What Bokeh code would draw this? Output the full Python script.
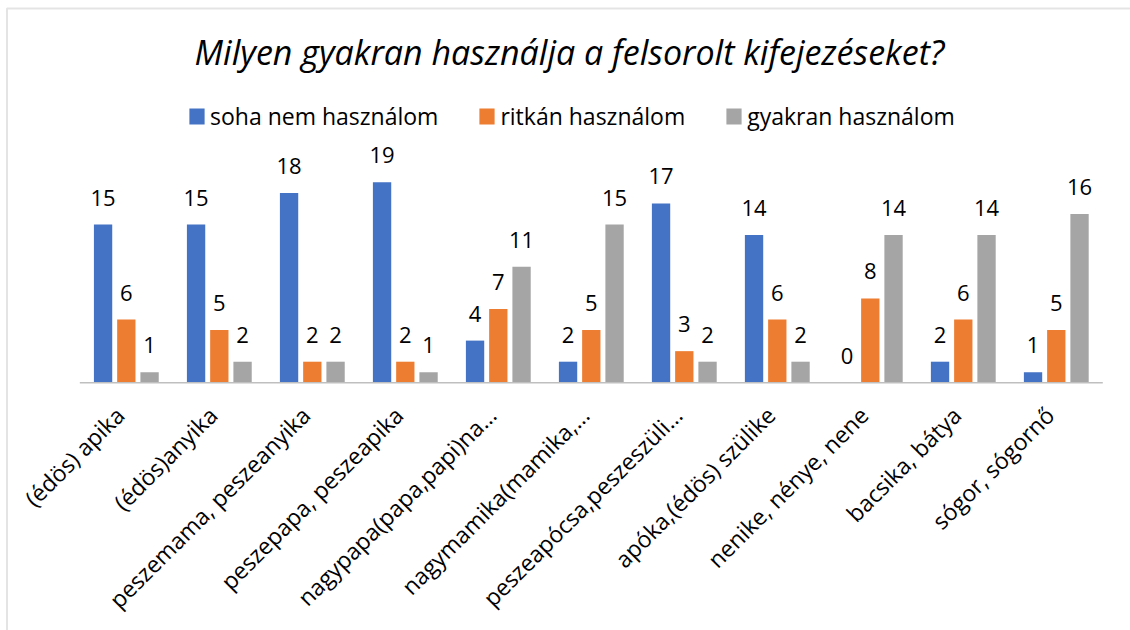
import math
from bokeh.plotting import figure
from bokeh.models import (ColumnDataSource, Range1d, FixedTicker, Legend, LegendItem,
                          Label, BoxAnnotation)
from bokeh.core.properties import value
from bokeh.embed import file_html
from bokeh.resources import INLINE

title_text = "Milyen gyakran használja a felsorolt kifejezéseket?"
categories = [
    "(édös) apika",
    "(édös)anyika",
    "peszemama, peszeanyika",
    "peszepapa, peszeapika",
    "nagypapa(papa,papi)na…",
    "nagymamika(mamika,…",
    "peszeapócsa,peszeszüli…",
    "apóka,(édös) szülike",
    "nenike, nénye, nene",
    "bacsika, bátya",
    "sógor, sógornő",
]
series_names = ["soha nem használom", "ritkán használom", "gyakran használom"]
soha = [15, 15, 18, 19, 4, 2, 17, 14, 0, 2, 1]
ritkan = [6, 5, 2, 2, 7, 5, 3, 6, 8, 6, 5]
gyakran = [1, 2, 2, 1, 11, 15, 2, 2, 14, 14, 16]
colors = ["#4472C4", "#ED7D31", "#A5A5A5"]

W, H = 1130, 630
X_START, X_END = -1.353, 10.798
Y_START, Y_END = -23.48, 36.24

def px2x(px):
    return X_START + px / W * (X_END - X_START)

def py2y(py):
    return Y_END - py / H * (Y_END - Y_START)

FONT = "Open Sans"
TXT = "#000000"

p = figure(width=W, height=H, output_backend="svg", toolbar_location=None,
           x_range=Range1d(X_START, X_END), y_range=Range1d(Y_START, Y_END),
           y_axis_location=None, min_border=0, min_border_left=0, min_border_right=0,
           min_border_top=0, min_border_bottom=0)
p.outline_line_color = None
p.xgrid.visible = False
p.ygrid.visible = False
p.background_fill_color = "white"
p.border_fill_color = "white"

idx = list(range(len(categories)))
offsets = [-0.25, 0.0, 0.25]
bar_w = 0.197
renderers = []
for vals, off, col in zip([soha, ritkan, gyakran], offsets, colors):
    src = ColumnDataSource(dict(
        x=[i + off for i in idx],
        top=vals,
        ty=[v + 2.56 for v in vals],
        label=[str(v) for v in vals],
    ))
    r = p.vbar(x="x", top="top", bottom=0, width=bar_w, source=src,
               fill_color=col, line_color=None)
    renderers.append(r)
    p.text(x="x", y="ty", text="label", source=src, text_align="center",
           text_baseline="middle", text_font=value(FONT), text_font_size="22px",
           text_color=TXT)

# category axis line
p.segment(x0=[idx[0] - 0.5], x1=[idx[-1] + 0.5], y0=[0], y1=[0],
          line_color="#bfbfbf", line_width=1.5)

# category labels, drawn by the axis at the baseline (no space reserved)
label_shift = -0.07
ticks = [i + label_shift for i in idx]
ax = p.xaxis[0]
ax.fixed_location = 0
ax.ticker = FixedTicker(ticks=ticks)
ax.major_label_overrides = {t: c for t, c in zip(ticks, categories)}
ax.major_label_orientation = math.pi / 4
ax.axis_line_color = None
ax.major_tick_line_color = None
ax.minor_tick_line_color = None
ax.major_label_text_font = FONT
ax.major_label_text_font_size = "23px"
ax.major_label_text_color = TXT
ax.major_label_standoff = 22

# title
p.add_layout(Label(x=px2x(569), y=py2y(51), text=title_text, text_align="center",
                   text_baseline="middle", text_font=FONT, text_font_style="italic",
                   text_font_size="34px", text_color=TXT))

# legend
legend = Legend(items=[LegendItem(label=n, renderers=[r]) for n, r in zip(series_names, renderers)],
                orientation="horizontal", location=(187, H - 132),
                glyph_width=19, glyph_height=20, label_standoff=4, spacing=39,
                padding=0, margin=0, border_line_color=None, background_fill_alpha=0,
                label_text_font=FONT, label_text_font_size="23px", label_text_color=TXT)
p.add_layout(legend)

# chart border (top and left visible)
p.add_layout(BoxAnnotation(left=px2x(6.5), right=px2x(1400), top=py2y(8), bottom=py2y(900),
                           fill_alpha=0, fill_color=None, line_color="#a6a6a6", line_width=2))

open("out.html", "w").write(file_html(p, INLINE))
